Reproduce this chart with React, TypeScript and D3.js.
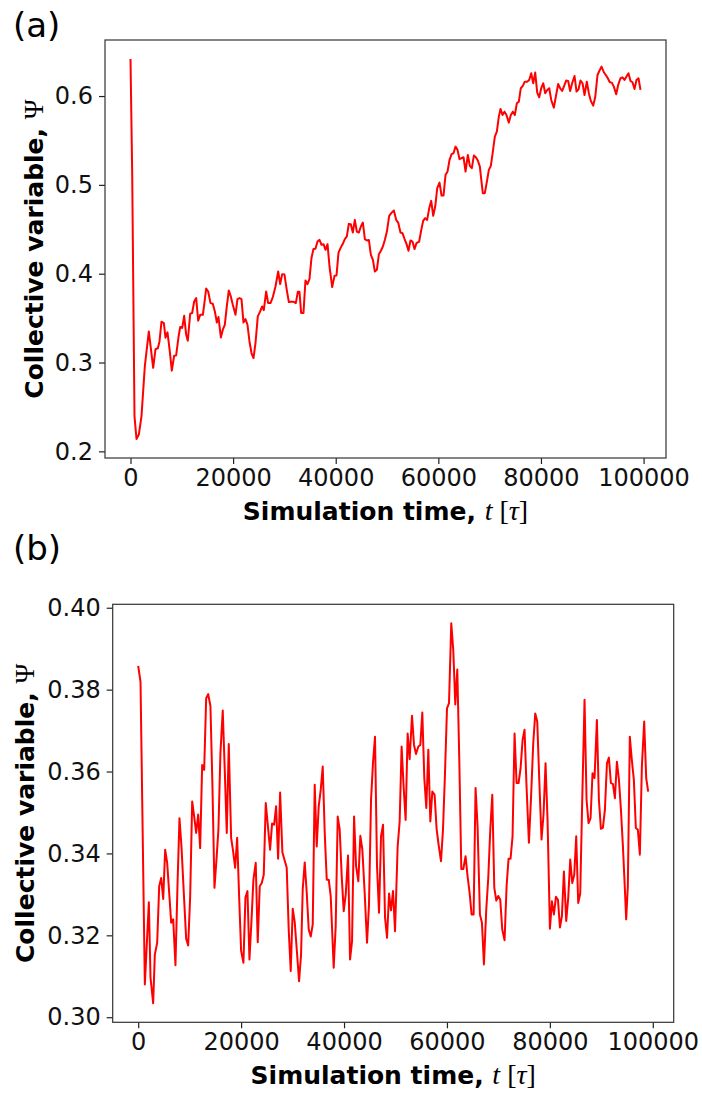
import * as d3 from 'd3';
import React, { Component } from 'react';

// panel (a): psi vs simulation time
const timeA = [0, 330, 780, 1170, 1620, 2140, 2790, 3570, 4420, 4870, 5330, 5650, 6040, 6500, 6820, 7210, 7660, 8050, 8510, 8900,
  9360, 9690, 10080, 10460, 10850, 11170, 11630, 12020, 12410, 12800, 13190, 13580, 14100, 14360, 14750, 15140, 15590, 16040, 16440, 16830,
  17150, 17610, 17990, 18380, 18770, 19160, 19550, 19940, 20460, 20850, 21240, 21630, 22020, 22410, 22800, 23190, 23580, 23970, 24360, 24810,
  25270, 25660, 25980, 26440, 26830, 27280, 27740, 28260, 28780, 29170, 29560, 30010, 30400, 30860, 31310, 31830, 32220, 32610, 32930, 33260,
  33710, 34100, 34490, 34880, 35270, 35660, 36050, 36450, 36840, 37230, 37620, 38010, 38400, 38790, 39310, 39760, 40150, 40540, 40930, 41380,
  41770, 42160, 42550, 42940, 43330, 43720, 44110, 44500, 44900, 45290, 45680, 46070, 46460, 46850, 47240, 47630, 48020, 48410, 48800, 49190,
  49580, 49970, 50420, 50810, 51330, 51780, 52170, 52620, 53010, 53400, 53790, 54180, 54570, 54960, 55350, 55740, 56260, 56650, 57040, 57430,
  57820, 58220, 58610, 59000, 59390, 59780, 60230, 60620, 61010, 61400, 61790, 62180, 62570, 62960, 63350, 63740, 64130, 64520, 64910, 65300,
  65750, 66140, 66530, 66920, 67310, 67700, 68090, 68410, 68670, 69060, 69520, 69840, 70230, 70620, 71010, 71400, 71790, 72120, 72500, 72890,
  73280, 73740, 74130, 74520, 74910, 75300, 75690, 76070, 76460, 76850, 77310, 77700, 78100, 78490, 78880, 79270, 79660, 80050, 80440, 80830,
  81220, 81610, 82000, 82510, 82900, 83350, 83740, 84130, 84520, 84910, 85300, 85690, 86080, 86540, 86930, 87320, 87710, 88100, 88490, 88940,
  89330, 89720, 90180, 90570, 91020, 91410, 91800, 92250, 92640, 93030, 93420, 93810, 94200, 94660, 95050, 95500, 95890, 96280, 96670, 97060,
  97450, 97840, 98230, 98620, 99010, 99400];
const psiA = [0.6417, 0.513, 0.2394, 0.2139, 0.2188, 0.2394, 0.2956, 0.335, 0.294, 0.315, 0.316, 0.3237, 0.346, 0.3444, 0.328, 0.334, 0.3125, 0.2908, 0.3077, 0.308,
  0.329, 0.340, 0.339, 0.3526, 0.3313, 0.3245, 0.3549, 0.3557, 0.3687, 0.3725, 0.347, 0.3537, 0.3537, 0.365, 0.3834, 0.380, 0.3669, 0.3662, 0.3575, 0.345,
  0.3512, 0.3283, 0.337, 0.3425, 0.3631, 0.3811, 0.3744, 0.365, 0.3537, 0.3714, 0.3725, 0.3714, 0.345, 0.3489, 0.3425, 0.3237, 0.3107, 0.305, 0.3219, 0.3519,
  0.3575, 0.3631, 0.359, 0.380, 0.3669, 0.3669, 0.3737, 0.3856, 0.4025, 0.3883, 0.3995, 0.399, 0.3838, 0.368, 0.3683, 0.3683, 0.3669, 0.3796, 0.3796, 0.3557,
  0.3557, 0.3924, 0.3883, 0.3939, 0.4175, 0.4277, 0.428, 0.4362, 0.4381, 0.4325, 0.4332, 0.4269, 0.4332, 0.4081, 0.3849, 0.3976, 0.398, 0.4238, 0.4288, 0.4336,
  0.4389, 0.4419, 0.4561, 0.4557, 0.4463, 0.4606, 0.4474, 0.4463, 0.4531, 0.4576, 0.4389, 0.4374, 0.438, 0.4213, 0.4156, 0.4025, 0.4044, 0.422, 0.4258, 0.4306,
  0.4381, 0.4474, 0.4651, 0.4682, 0.4711, 0.4606, 0.4576, 0.4463, 0.4456, 0.4393, 0.4336, 0.4258, 0.4374, 0.4362, 0.4277, 0.4344, 0.4362, 0.4486, 0.4595, 0.4625,
  0.4606, 0.4738, 0.482, 0.4651, 0.4756, 0.4962, 0.5026, 0.488, 0.488, 0.5112, 0.515, 0.5281, 0.5345, 0.5356, 0.5431, 0.5394, 0.5289, 0.530, 0.5311, 0.515,
  0.5337, 0.5214, 0.5188, 0.533, 0.5311, 0.5274, 0.5206, 0.5037, 0.4907, 0.4907, 0.5056, 0.5169, 0.5214, 0.5375, 0.5543, 0.560, 0.5768, 0.5855, 0.5787, 0.5824,
  0.5787, 0.5701, 0.5787, 0.5824, 0.5787, 0.5919, 0.5937, 0.6088, 0.6114, 0.6162, 0.6162, 0.6181, 0.6256, 0.6144, 0.6264, 0.6038, 0.5986, 0.6088, 0.6144, 0.6032,
  0.6069, 0.6088, 0.5956, 0.5869, 0.5993, 0.6136, 0.6088, 0.6057, 0.6114, 0.6174, 0.617, 0.6057, 0.6144, 0.6226, 0.605, 0.6076, 0.6174, 0.6144, 0.6012, 0.6162,
  0.6032, 0.5945, 0.5892, 0.5986, 0.6237, 0.6286, 0.6331, 0.6268, 0.6237, 0.620, 0.6155, 0.6151, 0.6106, 0.602, 0.6125, 0.620, 0.621, 0.6181, 0.6219, 0.6256,
  0.617, 0.6155, 0.608, 0.6181, 0.620, 0.6069];

// panel (b)
const timeB = [0, 450, 1290, 2070, 2390, 2910, 3230, 3690, 4080, 4470, 4860, 5240, 5630, 6020, 6410, 6800, 7240, 7630, 8020, 8410,
  8860, 9320, 9710, 10100, 10490, 10880, 11270, 11650, 12040, 12430, 12820, 13210, 13600, 14040, 14430, 14820, 15210, 15590, 15980, 16430,
  16820, 17210, 17600, 18060, 18450, 18840, 19230, 19610, 20000, 20450, 20840, 21230, 21620, 22010, 22390, 22840, 23230, 23620, 24010, 24400,
  24790, 25180, 25630, 26020, 26410, 26800, 27190, 27580, 28020, 28410, 28860, 29250, 29640, 30030, 30420, 30810, 31260, 31650, 31970, 32360,
  32750, 33140, 33530, 33920, 34300, 34690, 35080, 35470, 35860, 36250, 36640, 37030, 37410, 37990, 38380, 38770, 39160, 39550, 39940, 40330,
  40780, 41170, 41560, 41950, 42340, 42780, 43170, 43560, 44010, 44470, 44850, 45250, 45640, 46020, 46410, 46800, 47190, 47580, 47970, 48360,
  48750, 49130, 49520, 49910, 50420, 50810, 51190, 51580, 51970, 52360, 52750, 53210, 53600, 53990, 54440, 54830, 55210, 55600, 55990, 56380,
  56770, 57160, 57600, 57990, 58380, 58840, 59230, 59620, 60010, 60400, 60840, 61230, 61620, 62010, 62400, 62790, 63180, 63620, 64010, 64400,
  64790, 65180, 65560, 65950, 66410, 66800, 67190, 67640, 68030, 68420, 68810, 69200, 69590, 69970, 70360, 70750, 71200, 71590, 71970, 72360,
  72750, 73140, 73530, 73920, 74310, 74700, 75080, 75470, 75930, 76320, 76770, 77160, 77550, 77940, 78380, 78770, 79160, 79550, 80010, 80400,
  80790, 81180, 81570, 81960, 82340, 82730, 83180, 83570, 83960, 84350, 84740, 85120, 85510, 85900, 86290, 86740, 87130, 87520, 87910, 88290,
  88680, 89140, 89530, 89920, 90310, 90700, 91090, 91470, 91860, 92250, 92640, 93030, 93420, 93810, 94200, 94580, 94830, 95150, 95540, 95930,
  96320, 96710, 97100, 97490, 97880, 98330, 98720, 99110];
const psiB = [0.3858, 0.3819, 0.3080, 0.3281, 0.3097, 0.3034, 0.3153, 0.3182, 0.3320, 0.3340, 0.3289, 0.3409, 0.3377, 0.3304, 0.3231, 0.3239, 0.3127, 0.3320, 0.3486, 0.3417,
  0.3304, 0.3192, 0.3175, 0.3295, 0.3527, 0.3490, 0.3450, 0.3495, 0.3413, 0.3616, 0.3604, 0.3779, 0.3789, 0.3760, 0.3563, 0.3316, 0.3385, 0.3458, 0.3645, 0.3749,
  0.3604, 0.3450, 0.3667, 0.3438, 0.3405, 0.3365, 0.3438, 0.3296, 0.3162, 0.3133, 0.3292, 0.3308, 0.3141, 0.3235, 0.3336, 0.3377, 0.3183, 0.3320, 0.3328, 0.3348,
  0.3523, 0.3470, 0.3409, 0.3473, 0.3470, 0.3515, 0.3387, 0.3549, 0.3403, 0.3385, 0.3365, 0.3214, 0.3113, 0.3265, 0.3232, 0.3166, 0.3088, 0.3153, 0.3312, 0.3378,
  0.3304, 0.3214, 0.3197, 0.3227, 0.3568, 0.3417, 0.3515, 0.3555, 0.3612, 0.3450, 0.3336, 0.3336, 0.3296, 0.3121, 0.3222, 0.3490, 0.3458, 0.3344, 0.3259, 0.3300,
  0.3395, 0.3141, 0.3186, 0.3490, 0.3369, 0.3332, 0.3443, 0.3409, 0.3304, 0.3182, 0.3275, 0.3531, 0.3624, 0.3685, 0.3369, 0.3255, 0.3442, 0.3470, 0.3243, 0.3194,
  0.3302, 0.3261, 0.3308, 0.3210, 0.3417, 0.3478, 0.3661, 0.3563, 0.3482, 0.3693, 0.3630, 0.3736, 0.3665, 0.3643, 0.3661, 0.3665, 0.3744, 0.3584, 0.3511, 0.3653,
  0.3478, 0.3551, 0.3543, 0.3460, 0.3421, 0.3381, 0.3458, 0.3596, 0.3754, 0.3767, 0.3962, 0.3896, 0.3764, 0.3849, 0.3628, 0.3362, 0.3362, 0.3393, 0.3344, 0.3304,
  0.3251, 0.3251, 0.3560, 0.3466, 0.3251, 0.3231, 0.3129, 0.3263, 0.3340, 0.3458, 0.3543, 0.3316, 0.3285, 0.3296, 0.3287, 0.3214, 0.3188, 0.3320, 0.3387, 0.3387,
  0.3442, 0.3693, 0.3572, 0.3572, 0.3608, 0.3677, 0.3702, 0.3563, 0.3426, 0.3531, 0.3669, 0.3742, 0.3722, 0.3580, 0.3434, 0.3495, 0.3620, 0.3482, 0.3216, 0.3283,
  0.3251, 0.3294, 0.3287, 0.3219, 0.3247, 0.3356, 0.3235, 0.3292, 0.3385, 0.3328, 0.3348, 0.3442, 0.3279, 0.3302, 0.3531, 0.3775, 0.3531, 0.3474, 0.3486, 0.3596,
  0.3584, 0.3726, 0.3531, 0.3460, 0.3463, 0.3507, 0.3620, 0.3634, 0.3572, 0.3570, 0.3535, 0.3624, 0.3580, 0.3507, 0.3417, 0.3312, 0.3239, 0.3320, 0.3685, 0.3628,
  0.3580, 0.3462, 0.3458, 0.3397, 0.3612, 0.3722, 0.3584, 0.3551];

const xTicks = [0, 20000, 40000, 60000, 80000, 100000];
const yTicksA = [0.2, 0.3, 0.4, 0.5, 0.6];
const yTicksB = [0.30, 0.32, 0.34, 0.36, 0.38, 0.40];

const SANS = '"DejaVu Sans", sans-serif';
const SERIF = '"Liberation Serif", "DejaVu Serif", serif';

// matplotlib style 5% padding
function padded(vals: number[]): [number, number] {
  const [lo, hi] = d3.extent(vals) as [number, number];
  const m = (hi - lo) * 0.05;
  return [lo - m, hi + m];
}

class App extends Component {
  svgRef = React.createRef<SVGSVGElement>();

  componentDidMount() {
    const svg = d3.select(this.svgRef.current);
    svg.selectAll('*').remove();
    this.drawPanel(svg, {
      box: { left: 105, right: 666, top: 40, bottom: 458 },
      times: timeA, psi: psiA, yTicks: yTicksA, yFmt: d3.format('.1f'),
      tag: '(a)', tagPos: [13, 37], yLabelX: 43,
    });
    this.drawPanel(svg, {
      box: { left: 112.7, right: 673.7, top: 604.3, bottom: 1022.3 },
      times: timeB, psi: psiB, yTicks: yTicksB, yFmt: d3.format('.2f'),
      tag: '(b)', tagPos: [13, 560], yLabelX: 34,
    });
  }

  drawPanel(svg: any, cfg: any) {
    const { box, times, psi, yTicks, yFmt } = cfg;
    const x = d3.scaleLinear().domain(padded(times)).range([box.left, box.right]);
    const y = d3.scaleLinear().domain(padded(psi)).range([box.bottom, box.top]);

    const g = svg.append('g');

    // red trace
    const line = d3.line<number>()
      .x((d, i) => x(times[i]))
      .y(d => y(d));
    g.append('path')
      .datum(psi)
      .attr('fill', 'none')
      .attr('stroke', '#ff0000')
      .attr('stroke-width', 2)
      .attr('stroke-linejoin', 'round')
      .attr('d', line);

    // x axis
    const xa = g.append('g')
      .attr('transform', 'translate(0,' + box.bottom + ')')
      .call(d3.axisBottom(x).tickValues(xTicks).tickFormat(d3.format('d')).tickSize(6).tickPadding(5));
    // y axis
    const ya = g.append('g')
      .attr('transform', 'translate(' + box.left + ',0)')
      .call(d3.axisLeft(y).tickValues(yTicks).tickFormat(yFmt).tickSize(6).tickPadding(6));
    [xa, ya].forEach(a => {
      a.select('.domain').remove();
      a.selectAll('line').attr('stroke', '#222').attr('stroke-width', 1.2);
      a.selectAll('text').attr('fill', '#111').style('font-family', SANS).style('font-size', '24px');
    });

    // frame
    g.append('rect')
      .attr('x', box.left).attr('y', box.top)
      .attr('width', box.right - box.left).attr('height', box.bottom - box.top)
      .attr('fill', 'none').attr('stroke', '#333').attr('stroke-width', 1.2);

    // x label
    const cx = (box.left + box.right) / 2;
    const xl = g.append('text')
      .attr('x', cx).attr('y', box.bottom + 62)
      .attr('text-anchor', 'middle')
      .style('font-size', '25px').attr('fill', '#000');
    xl.append('tspan').style('font-family', SANS).style('font-weight', 'bold').text('Simulation time, ');
    xl.append('tspan').style('font-family', SERIF).style('font-style', 'italic').style('font-size', '28px').text('t');
    xl.append('tspan').style('font-family', SERIF).style('font-size', '28px').text(' [');
    xl.append('tspan').style('font-family', SERIF).style('font-style', 'italic').style('font-size', '28px').text('τ');
    xl.append('tspan').style('font-family', SERIF).style('font-size', '28px').text(']');

    // y label
    const cy = (box.top + box.bottom) / 2;
    const yl = g.append('text')
      .attr('transform', 'translate(' + cfg.yLabelX + ',' + cy + ') rotate(-90)')
      .attr('text-anchor', 'middle')
      .style('font-size', '25px').attr('fill', '#000');
    yl.append('tspan').style('font-family', SANS).style('font-weight', 'bold').text('Collective variable, ');
    yl.append('tspan').style('font-family', SERIF).style('font-size', '27px').text('Ψ');

    // panel tag
    g.append('text')
      .attr('x', cfg.tagPos[0]).attr('y', cfg.tagPos[1])
      .style('font-family', SANS).style('font-size', '34px').attr('fill', '#000')
      .text(cfg.tag);
  }

  render() {
    return (
      <div style={{ position: 'absolute', left: 0, top: 0 }}>
        <svg ref={this.svgRef} width={702} height={1095} style={{ display: 'block', background: '#fff' }} />
      </div>
    );
  }
}

export default App;
